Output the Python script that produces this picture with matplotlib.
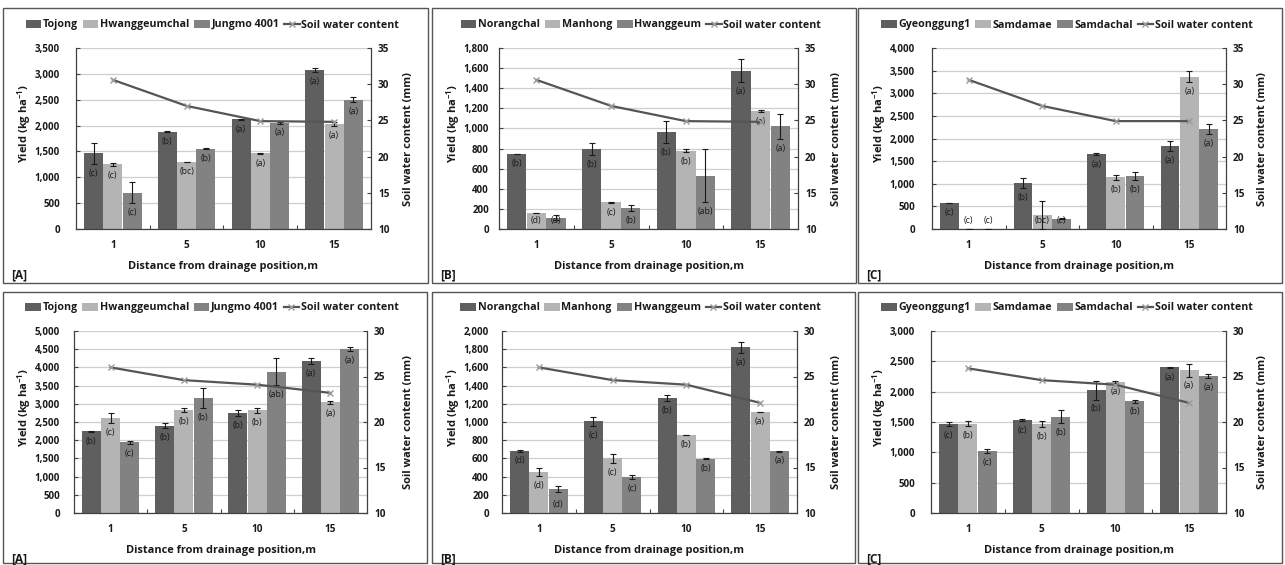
import numpy as np
import matplotlib
matplotlib.use("Agg")
import matplotlib.pyplot as plt
from matplotlib.patches import Rectangle, Patch
from matplotlib.lines import Line2D
from matplotlib.ticker import FuncFormatter, MultipleLocator, FixedLocator

plt.rcParams['font.family'] = ['Open Sans', 'DejaVu Sans']
plt.rcParams['mathtext.fontset'] = 'custom'
plt.rcParams['mathtext.rm'] = 'Open Sans:bold'
plt.rcParams['mathtext.bf'] = 'Open Sans:bold'
plt.rcParams['mathtext.it'] = 'Open Sans:bold'

# ---------------- data ----------------
distances = ['1', '5', '10', '15']

# Top row
a1_names = ['Tojong', 'Hwanggeumchal', 'Jungmo 4001']
a1_tojong = [1460, 1880, 2120, 3080]
a1_tojong_err = [200, 10, 10, 40]
a1_tojong_lab = ['(c)', '(b)', '(a)', '(a)']
a1_hwang = [1255, 1300, 1460, 2030]
a1_hwang_err = [30, 5, 15, 40]
a1_hwang_lab = ['(c)', '(bc)', '(a)', '(a)']
a1_jungmo = [700, 1550, 2050, 2500]
a1_jungmo_err = [200, 10, 10, 45]
a1_jungmo_lab = ['(c)', '(b)', '(a)', '(a)']
a1_soil = [30.6, 27.0, 24.9, 24.8]

b1_names = ['Norangchal', 'Manhong', 'Hwanggeum']
b1_norang = [745, 795, 965, 1575]
b1_norang_err = [3, 60, 112, 115]
b1_norang_lab = ['(b)', '(b)', '(b)', '(a)']
b1_manhong = [158, 265, 780, 1175]
b1_manhong_err = [3, 3, 15, 8]
b1_manhong_lab = ['(d)', '(c)', '(b)', '(a)']
b1_hwang = [110, 205, 530, 1020]
b1_hwang_err = [25, 30, 265, 128]
b1_hwang_lab = ['(d)', '(b)', '(ab)', '(a)']
b1_soil = [30.6, 27.0, 24.9, 24.8]

c1_names = ['Gyeonggung1', 'Samdamae', 'Samdachal']
c1_gyeong = [580, 1020, 1650, 1840]
c1_gyeong_err = [5, 110, 20, 115]
c1_gyeong_lab = ['(c)', '(b)', '(a)', '(a)']
c1_samdamae = [0, 310, 1140, 3370]
c1_samdamae_err = [0, 300, 60, 120]
c1_samdamae_lab = ['(c)', '(bc)', '(b)', '(a)']
c1_samdachal = [0, 230, 1170, 2210]
c1_samdachal_err = [0, 5, 80, 120]
c1_samdachal_lab = ['(c)', '(c)', '(b)', '(a)']
c1_soil = [30.6, 27.0, 24.9, 24.9]

# Bottom row
a2_tojong = [2240, 2400, 2740, 4180]
a2_tojong_err = [25, 65, 85, 80]
a2_tojong_lab = ['(b)', '(b)', '(b)', '(a)']
a2_hwang = [2610, 2830, 2820, 3040]
a2_hwang_err = [130, 50, 70, 40]
a2_hwang_lab = ['(c)', '(b)', '(b)', '(a)']
a2_jungmo = [1940, 3160, 3880, 4500]
a2_jungmo_err = [40, 280, 370, 60]
a2_jungmo_lab = ['(c)', '(b)', '(ab)', '(a)']
a2_soil = [26.0, 24.6, 24.1, 23.2]

b2_norang = [685, 1010, 1265, 1820]
b2_norang_err = [10, 50, 35, 60]
b2_norang_lab = ['(d)', '(c)', '(b)', '(a)']
b2_manhong = [450, 600, 855, 1110]
b2_manhong_err = [45, 50, 3, 5]
b2_manhong_lab = ['(d)', '(c)', '(b)', '(a)']
b2_hwang = [265, 395, 595, 680]
b2_hwang_err = [35, 20, 5, 5]
b2_hwang_lab = ['(d)', '(c)', '(b)', '(a)']
b2_soil = [26.0, 24.6, 24.1, 22.1]

c2_gyeong = [1470, 1530, 2020, 2400]
c2_gyeong_err = [30, 20, 150, 5]
c2_gyeong_lab = ['(c)', '(c)', '(b)', '(a)']
c2_samdamae = [1470, 1470, 2160, 2350]
c2_samdamae_err = [40, 50, 10, 100]
c2_samdamae_lab = ['(b)', '(b)', '(a)', '(a)']
c2_samdachal = [1020, 1590, 1840, 2260]
c2_samdachal_err = [30, 110, 20, 30]
c2_samdachal_lab = ['(c)', '(b)', '(b)', '(a)']
c2_soil = [25.9, 24.6, 24.1, 22.1]

panel_tags = ['[A]', '[B]', '[C]', '[A]', '[B]', '[C]']

# ---------------- layout ----------------
W, H = 1285, 565
fig = plt.figure(figsize=(W / 100, H / 100), dpi=100)
fig.patch.set_facecolor('white')

bar_colors = ['#5f5f5f', '#b4b4b4', '#828282']
line_color = '#555555'
marker_color = '#9a9a9a'
axis_color = '#404040'
text_color = '#1a1a1a'

panels = [
    dict(names=a1_names, series=[(a1_tojong, a1_tojong_err, a1_tojong_lab),
                                 (a1_hwang, a1_hwang_err, a1_hwang_lab),
                                 (a1_jungmo, a1_jungmo_err, a1_jungmo_lab)],
         soil=a1_soil, ymax=3500, ystep=500, smax=35,
         ax=(76, 371, 48, 229), frame=(3, 428, 8, 283)),
    dict(names=b1_names, series=[(b1_norang, b1_norang_err, b1_norang_lab),
                                 (b1_manhong, b1_manhong_err, b1_manhong_lab),
                                 (b1_hwang, b1_hwang_err, b1_hwang_lab)],
         soil=b1_soil, ymax=1800, ystep=200, smax=35,
         ax=(499, 798, 48, 229), frame=(432, 856, 8, 283)),
    dict(names=c1_names, series=[(c1_gyeong, c1_gyeong_err, c1_gyeong_lab),
                                 (c1_samdamae, c1_samdamae_err, c1_samdamae_lab),
                                 (c1_samdachal, c1_samdachal_err, c1_samdachal_lab)],
         soil=c1_soil, ymax=4000, ystep=500, smax=35,
         ax=(932, 1226, 48, 229), frame=(858, 1282, 8, 283)),
    dict(names=a1_names, series=[(a2_tojong, a2_tojong_err, a2_tojong_lab),
                                 (a2_hwang, a2_hwang_err, a2_hwang_lab),
                                 (a2_jungmo, a2_jungmo_err, a2_jungmo_lab)],
         soil=a2_soil, ymax=5000, ystep=500, smax=30,
         ax=(74, 367, 331, 513), frame=(3, 427, 292, 563)),
    dict(names=b1_names, series=[(b2_norang, b2_norang_err, b2_norang_lab),
                                 (b2_manhong, b2_manhong_err, b2_manhong_lab),
                                 (b2_hwang, b2_hwang_err, b2_hwang_lab)],
         soil=b2_soil, ymax=2000, ystep=200, smax=30,
         ax=(502, 797, 331, 513), frame=(432, 855, 292, 563)),
    dict(names=c1_names, series=[(c2_gyeong, c2_gyeong_err, c2_gyeong_lab),
                                 (c2_samdamae, c2_samdamae_err, c2_samdamae_lab),
                                 (c2_samdachal, c2_samdachal_err, c2_samdachal_lab)],
         soil=c2_soil, ymax=3000, ystep=500, smax=30,
         ax=(931, 1226, 331, 513), frame=(858, 1282, 292, 563)),
]


def fx(px):
    return px / W


def fy(py):
    return 1 - py / H


thousands = FuncFormatter(lambda v, p: '{:,.0f}'.format(v))

for idx, p in enumerate(panels):
    l, r, t, b = p['ax']
    fl, fr, ft, fb = p['frame']
    fig.patches.append(Rectangle((fx(fl), fy(fb)), fx(fr - fl), (fb - ft) / H,
                                 transform=fig.transFigure, fill=False,
                                 edgecolor='#555555', linewidth=1.0, zorder=0))

    ax = fig.add_axes([fx(l), fy(b), fx(r - l), (b - t) / H])
    x = np.arange(len(distances))
    width = 0.258
    step = 0.262
    handles = []
    for i, (vals, errs, labs) in enumerate(p['series']):
        xs = x + (i - 1) * step
        ax.bar(xs, vals, width, yerr=errs, color=bar_colors[i], zorder=2,
               error_kw=dict(ecolor='#1a1a1a', elinewidth=0.8, capsize=2.2,
                             capthick=0.8, zorder=3))
        handles.append(Patch(facecolor=bar_colors[i], edgecolor='none'))
        for xi, v, e, lab in zip(xs, vals, errs, labs):
            base = v - e
            if base < 0.12 * p['ymax']:
                ax.annotate(lab, (xi, 0), xytext=(0, 3), textcoords='offset points',
                            ha='center', va='bottom', fontsize=6.3, color=text_color, zorder=4)
            else:
                ax.annotate(lab, (xi, base), xytext=(0, -3.5), textcoords='offset points',
                            ha='center', va='top', fontsize=6.3, color=text_color, zorder=4)

    ax.set_xlim(-0.5, len(distances) - 0.5)
    ax.set_ylim(0, p['ymax'])
    ax.yaxis.set_major_locator(MultipleLocator(p['ystep']))
    ax.yaxis.set_major_formatter(thousands)
    ax.yaxis.grid(True, color='#cfcfcf', linewidth=0.9, zorder=0)
    ax.set_axisbelow(True)
    ax.set_xticks(x)
    ax.set_xticklabels(distances)
    ax.xaxis.set_minor_locator(FixedLocator([0.5, 1.5, 2.5]))
    ypad = max(2.0, (l - (fl + 57)) * 0.72)
    ax.tick_params(axis='x', which='major', length=0, pad=8, labelsize=7.2, colors=text_color)
    ax.tick_params(axis='x', which='minor', direction='in', length=3, width=0.8, color=axis_color)
    ax.tick_params(axis='y', direction='in', length=3, width=0.8, pad=ypad,
                   labelsize=7.0, color=axis_color, labelcolor=text_color)
    for lab in ax.get_xticklabels() + ax.get_yticklabels():
        lab.set_fontweight('bold')
    ax.spines['top'].set_visible(False)
    ax.spines['right'].set_visible(False)
    for s in ['left', 'bottom']:
        ax.spines[s].set_color(axis_color)
        ax.spines[s].set_linewidth(0.9)

    ax2 = ax.twinx()
    ax2.plot(x, p['soil'], color=line_color, linewidth=1.6, marker='x',
             markersize=5, markeredgecolor=marker_color, markeredgewidth=1.0, zorder=5)
    ax2.set_ylim(10, p['smax'])
    ax2.yaxis.set_major_locator(MultipleLocator(5))
    ax2.tick_params(axis='y', direction='in', length=3, width=0.8, pad=5,
                    labelsize=7.2, color=axis_color, labelcolor=text_color)
    for lab in ax2.get_yticklabels():
        lab.set_fontweight('bold')
    for s in ['top', 'left', 'bottom']:
        ax2.spines[s].set_visible(False)
    ax2.spines['right'].set_color(axis_color)
    ax2.spines['right'].set_linewidth(0.9)

    line_handle = Line2D([], [], color=line_color, linewidth=1.6, marker='x',
                         markersize=5, markeredgecolor=marker_color, markeredgewidth=1.0)
    legend_cx = (fl + fr) / 2 - 3
    leg = ax.legend(handles + [line_handle], p['names'] + ['Soil water content'],
                    loc='center', bbox_to_anchor=((legend_cx - l) / (r - l), 1 + 23 / (b - t)),
                    ncol=4, frameon=False, handlelength=1.45, handleheight=0.75,
                    handletextpad=0.15, columnspacing=0.45, borderaxespad=0,
                    prop=dict(size=7.7, weight='bold'))
    for txt in leg.get_texts():
        txt.set_color(text_color)

    # axis titles
    fig.text(fx((l + r) / 2), fy(b + 37), 'Distance from drainage position,m',
             ha='center', va='center', fontsize=7.9, fontweight='bold', color=text_color)
    fig.text(fx(fl + 21), fy(b - 0.58 * (b - t)), 'Yield (kg ha$^{-1}$)',
             ha='center', va='center', rotation=90, fontsize=8.0, fontweight='bold', color=text_color)
    fig.text(fx(fr - 19), fy(b - 0.5 * (b - t)), 'Soil water content (mm)',
             ha='center', va='center', rotation=90, fontsize=8.0, fontweight='bold', color=text_color)
    fig.text(fx(fl + 8), fy(ft + 267), panel_tags[idx], ha='left', va='center',
             fontsize=8.5, fontweight='bold', color=text_color)

fig.savefig('out.png', dpi=100, facecolor='white')
